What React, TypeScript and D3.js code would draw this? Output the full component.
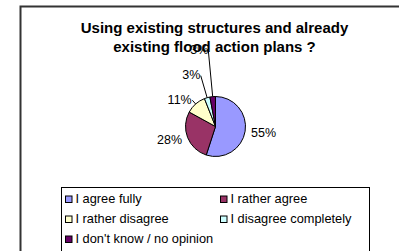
import React, { useEffect, useRef } from 'react';
import * as d3 from 'd3';

const categories = [
  'I agree fully',
  'I rather agree',
  'I rather disagree',
  'I disagree completely',
  "I don't know / no opinion",
];
const shares = [55, 28, 11, 3, 3];
const sliceColors = ['#9999FF', '#993366', '#FFFFCC', '#CCFFFF', '#660066'];
const titleLines = ['Using existing structures and already', 'existing flood action plans ?'];

interface Slice {
  name: string;
  value: number;
  color: string;
}

const App: React.FC = () => {
  const svgRef = useRef<SVGSVGElement | null>(null);

  useEffect(() => {
    const width = 399;
    const height = 251;
    const font = 'Arial, "Liberation Sans", sans-serif';

    const data: Slice[] = categories.map((name, i) => ({ name, value: shares[i], color: sliceColors[i] }));

    const svg = d3.select(svgRef.current)
      .attr('width', width)
      .attr('height', height);
    svg.selectAll('*').remove();

    svg.append('rect')
      .attr('width', width)
      .attr('height', height)
      .attr('fill', '#fff');

    // chart frame (runs off the right and bottom)
    svg.append('rect')
      .attr('x', 20.5)
      .attr('y', 6.5)
      .attr('width', 420)
      .attr('height', 300)
      .attr('fill', 'none')
      .attr('stroke', '#333')
      .attr('stroke-width', 2);

    const cx = 215.5;
    const cy = 126.5;
    const radius = 30;

    const pie = d3.pie<Slice>().value(d => d.value).sort(null);
    const arc = d3.arc<d3.PieArcDatum<Slice>>().innerRadius(0).outerRadius(radius);
    const arcs = pie(data);

    const g = svg.append('g').attr('transform', `translate(${cx},${cy})`);

    g.selectAll('path')
      .data(arcs)
      .enter()
      .append('path')
      .attr('d', arc)
      .attr('fill', d => d.data.color)
      .attr('stroke', '#000')
      .attr('stroke-width', 1);

    // data labels, pushed outward when they collide
    const fontSize = 12.5;
    const placed: { x0: number; x1: number; y0: number; y1: number }[] = [];
    const pad = 12;
    arcs.forEach(d => {
      const mid = (d.startAngle + d.endAngle) / 2;
      const sx = Math.sin(mid);
      const sy = -Math.cos(mid);
      const anchor = sx >= 0 ? 'start' : 'end';
      const label = g.append('text')
        .attr('font-family', font)
        .attr('font-size', fontSize)
        .attr('fill', '#000')
        .attr('text-anchor', anchor)
        .attr('dy', '0.35em')
        .text(`${d.data.value}%`);
      const w = (label.node() as SVGTextElement).getComputedTextLength();
      let r = radius + 6;
      const boxAt = (rr: number) => {
        const x = sx * rr;
        const y = sy * rr;
        const x0 = anchor === 'start' ? x : x - w;
        return { x, y, x0, x1: x0 + w, y0: y - fontSize / 2, y1: y + fontSize / 2 };
      };
      let b = boxAt(r);
      const hits = (bb: typeof b) => placed.some(p =>
        bb.x0 < p.x1 + 2 && bb.x1 > p.x0 - 2 && bb.y0 < p.y1 + pad && bb.y1 > p.y0 - pad);
      while (hits(b) && r < 120) {
        r += 1;
        b = boxAt(r);
      }
      placed.push(b);
      label.attr('x', b.x).attr('y', b.y);

      if (d.data.value < 15) {
        g.append('line')
          .attr('x1', sx * radius)
          .attr('y1', sy * radius)
          .attr('x2', sx * (r - 1))
          .attr('y2', sy * (r - 1))
          .attr('stroke', '#000')
          .attr('stroke-width', 1);
      }
    });

    // title
    const title = svg.append('text')
      .attr('font-family', font)
      .attr('font-size', 15)
      .attr('font-weight', 'bold')
      .attr('fill', '#000')
      .attr('text-anchor', 'middle');
    titleLines.forEach((t, i) => {
      title.append('tspan')
        .attr('x', 214.5)
        .attr('y', 33 + i * 18.5)
        .text(t);
    });

    // legend
    svg.append('rect')
      .attr('x', 61.5)
      .attr('y', 187.5)
      .attr('width', 308)
      .attr('height', 100)
      .attr('fill', '#fff')
      .attr('stroke', '#000')
      .attr('stroke-width', 1);

    const colX = d3.scalePoint<number>().domain([0, 1]).range([65.5, 220.5]);
    const rowY = d3.scalePoint<number>().domain([0, 1, 2]).range([203, 243]);

    const items = svg.selectAll('.legend-item')
      .data(data)
      .enter()
      .append('g')
      .attr('class', 'legend-item')
      .attr('transform', (d, i) => `translate(${colX(i % 2)},${rowY(Math.floor(i / 2))})`);

    items.append('rect')
      .attr('x', 0)
      .attr('y', -7)
      .attr('width', 6.5)
      .attr('height', 6.5)
      .attr('fill', d => d.color)
      .attr('stroke', '#000')
      .attr('stroke-width', 1);

    items.append('text')
      .attr('x', 10)
      .attr('y', 0)
      .attr('font-family', font)
      .attr('font-size', 12.8)
      .attr('fill', '#000')
      .text(d => d.name);
  }, []);

  return (
    <svg ref={svgRef} style={{ position: 'absolute', left: 0, top: 0, display: 'block' }}></svg>
  );
};

export default App;
